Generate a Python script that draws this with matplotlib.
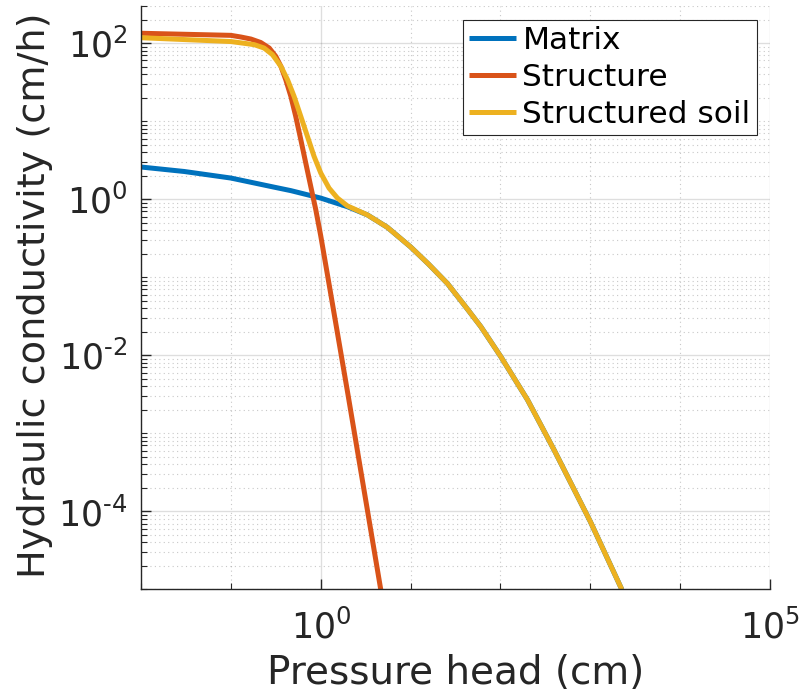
import numpy as np
import matplotlib
matplotlib.use("Agg")
import matplotlib.pyplot as plt
from matplotlib.ticker import LogLocator, FixedLocator, NullFormatter

# Pressure head (cm) and hydraulic conductivity (cm/h) for each domain
h_matrix = [0.01, 0.0302, 0.10, 0.302, 0.465, 1.0, 1.98, 3.30, 5.51, 10,
            15.8, 25.7, 39.8, 60.3, 100, 200, 398, 1000, 2240]
K_matrix = [2.59, 2.27, 1.87, 1.43, 1.29, 1.035, 0.803, 0.631, 0.437, 0.245,
            0.148, 0.0832, 0.0437, 0.0234, 0.00977, 0.00269, 6.03e-4,
            7.41e-5, 1.0e-5]

h_structure = [0.01, 0.10, 0.129, 0.167, 0.215, 0.267, 0.316, 0.360, 0.408,
               0.465, 0.527, 0.600, 0.681, 0.774, 0.879, 1.0, 1.26, 2.0, 4.65]
K_structure = [134, 126, 120, 113, 102, 86.7, 67.8, 50.5, 34.0, 20.8, 11.5,
               5.79, 2.91, 1.46, 0.741, 0.339, 0.0724, 0.00324, 1.0e-5]

h_soil = [0.01, 0.10, 0.129, 0.182, 0.234, 0.290, 0.360, 0.427, 0.505, 0.600,
          0.711, 0.843, 1.0, 1.236, 1.535, 1.98, 3.30, 5.51, 10, 15.8, 25.7,
          39.8, 60.3, 100, 200, 398, 1000, 2240]
K_soil = [117.5, 105, 101, 95.7, 86.7, 71.3, 50.5, 34.0, 20.8, 11.5, 6.38,
          3.54, 2.17, 1.39, 1.035, 0.822, 0.631, 0.437, 0.245, 0.148, 0.0832,
          0.0437, 0.0234, 0.00977, 0.00269, 6.03e-4, 7.41e-5, 1.0e-5]

series_labels = ["Matrix", "Structure", "Structured soil"]
series_colors = ["#0072BD", "#D95319", "#EDB120"]

x_range = (1e-2, 1e5)
y_range = (1e-5, 3e2)
x_major_ticks = [1e0, 1e5]
x_tick_labels = [r"$10^{0}$", r"$10^{5}$"]
y_major_ticks = [1e-4, 1e-2, 1e0, 1e2]
y_tick_labels = [r"$10^{\text{-}4}$", r"$10^{\text{-}2}$", r"$10^{0}$", r"$10^{2}$"]

axis_color = "#262626"

fig = plt.figure(figsize=(8.05, 7.0), dpi=100)
ax = fig.add_axes([0.1752, 0.1579, 0.7814, 0.8336])

lw = 3.6
for hh, kk, lab, col in zip([h_matrix, h_structure, h_soil],
                            [K_matrix, K_structure, K_soil],
                            series_labels, series_colors):
    ax.plot(hh, kk, color=col, lw=lw, label=lab, solid_capstyle="butt",
            solid_joinstyle="round")

ax.set_xscale("log")
ax.set_yscale("log")
ax.set_xlim(*x_range)
ax.set_ylim(*y_range)

ax.set_xticks(x_major_ticks, labels=x_tick_labels)
ax.xaxis.set_minor_locator(FixedLocator([10.0 ** e for e in range(-2, 6)]))
ax.xaxis.set_minor_formatter(NullFormatter())
ax.set_yticks(y_major_ticks, labels=y_tick_labels)
ax.yaxis.set_minor_locator(LogLocator(base=10, subs=np.arange(1, 10), numticks=30))
ax.yaxis.set_minor_formatter(NullFormatter())

ax.grid(True, which="major", color=axis_color, alpha=0.15, lw=1.0, ls="-")
ax.grid(True, which="minor", color=axis_color, alpha=0.25, lw=0.8, ls=(0, (1, 3)))
ax.set_axisbelow(True)

for side in ("top", "right"):
    ax.spines[side].set_visible(False)
for side in ("left", "bottom"):
    ax.spines[side].set_color(axis_color)
    ax.spines[side].set_linewidth(1.0)

ax.tick_params(which="both", direction="in", colors=axis_color,
               top=False, right=False)
ax.tick_params(which="major", length=7, width=1.0, labelsize=25)
ax.tick_params(axis="x", which="major", pad=14)
ax.tick_params(axis="y", which="major", pad=10)
ax.tick_params(which="minor", length=4, width=0.8)

ax.set_xlabel("Pressure head (cm)", fontsize=28, color=axis_color)
ax.set_ylabel("Hydraulic conductivity (cm/h)", fontsize=27.5, color=axis_color)
ax.xaxis.set_label_coords(0.5008, -0.1105)
ax.yaxis.set_label_coords(-0.140, 0.505)

leg = ax.legend(loc="upper right", bbox_to_anchor=(0.979, 0.976),
                borderaxespad=0, fontsize=22.5, handlelength=1.5,
                handletextpad=0.2, labelspacing=0.25, borderpad=0.2,
                fancybox=False, framealpha=1.0)
leg.get_frame().set_edgecolor(axis_color)
leg.get_frame().set_linewidth(0.8)

fig.savefig("out.png", dpi=100)
